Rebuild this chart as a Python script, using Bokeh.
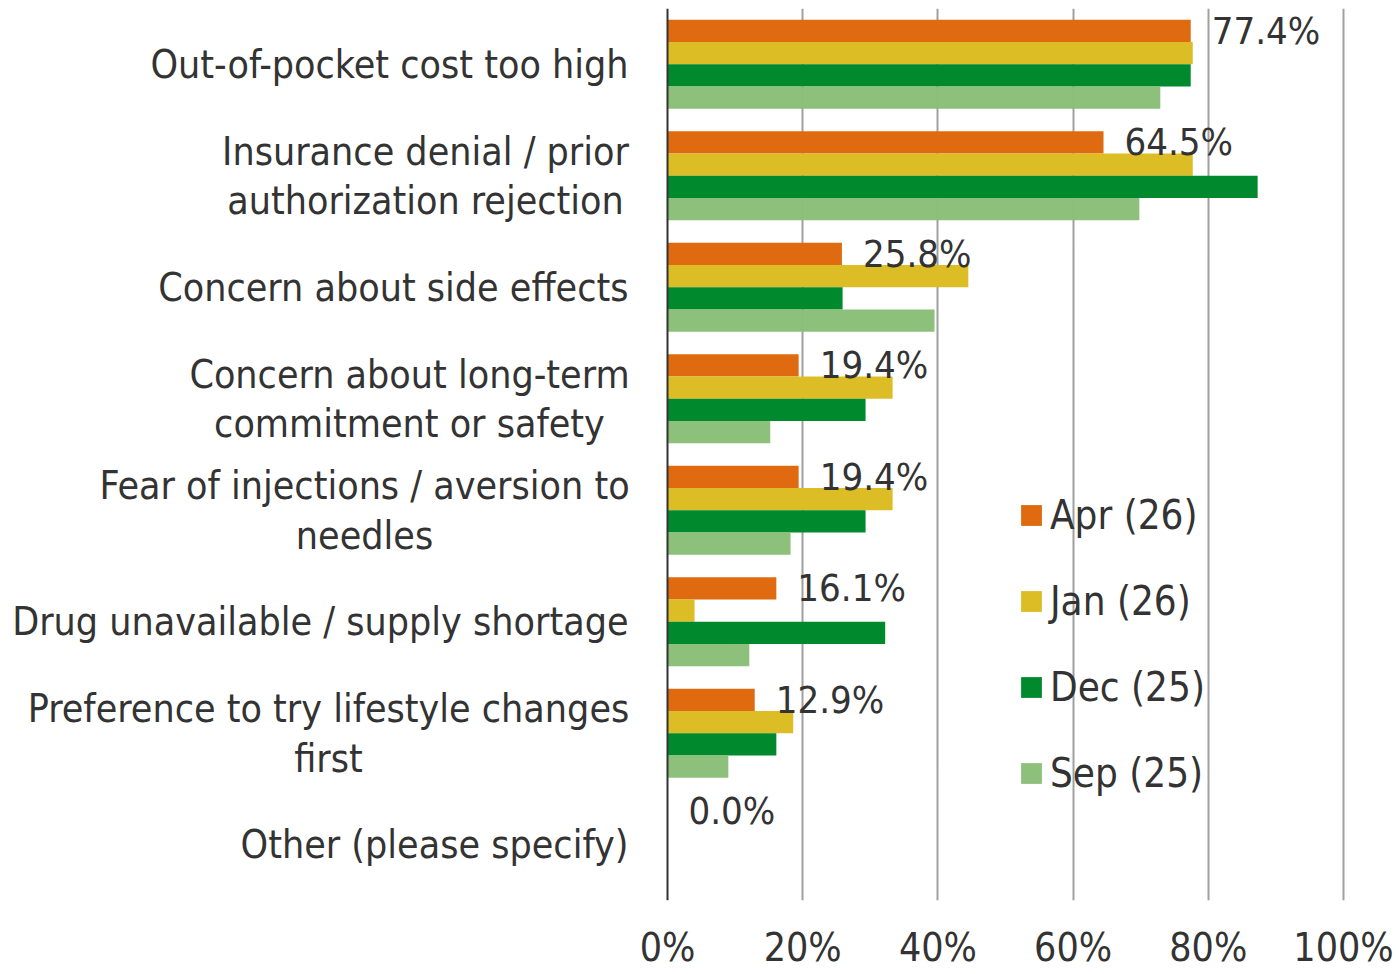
from bokeh.plotting import figure
from bokeh.models import (ColumnDataSource, Range1d, FixedTicker, NumeralTickFormatter,
                          Legend, LegendItem, Span)
from bokeh.transform import dodge
from bokeh.core.properties import value
from bokeh.embed import file_html
from bokeh.resources import INLINE

categories = [
    "Out-of-pocket cost too high",
    "Insurance denial / prior\nauthorization rejection",
    "Concern about side effects",
    "Concern about long-term\ncommitment or safety",
    "Fear of injections / aversion to\nneedles",
    "Drug unavailable / supply shortage",
    "Preference to try lifestyle changes\nfirst",
    "Other (please specify)",
]
series_names = ["Apr (26)", "Jan (26)", "Dec (25)", "Sep (25)"]
apr = [0.774, 0.645, 0.258, 0.194, 0.194, 0.161, 0.129, 0.0]
jan = [0.777, 0.777, 0.445, 0.333, 0.333, 0.040, 0.186, 0.0]
dec = [0.774, 0.873, 0.259, 0.293, 0.293, 0.322, 0.161, 0.0]
sep = [0.729, 0.698, 0.395, 0.152, 0.182, 0.121, 0.090, 0.0]
x_ticks = [0, 0.2, 0.4, 0.6, 0.8, 1.0]

colors = ["#DF6A0F", "#DCBD25", "#018A2D", "#89BE76"]
FONT = "DejaVu Sans Condensed"
TXT = "#333333"
FS = "39px"

# layout (pixels): zero of the value axis sits 667px from the left edge, 100% spans 676px
PX = 676.0
LEFT = 667.0
n = len(categories)
y = [i + 0.5 for i in range(n)]
src = ColumnDataSource(dict(y=y, apr=apr, jan=jan, dec=dec, sep=sep,
                            lbl=[f"{v*100:.1f}%" for v in apr]))

p = figure(width=1399, height=974, output_backend="svg", toolbar_location=None,
           x_range=Range1d(-LEFT / PX, 710 / PX), y_range=Range1d(n, 0),
           min_border_left=0, min_border_right=22, min_border_top=8, min_border_bottom=74)
p.outline_line_color = None
p.background_fill_color = "white"

renderers = []
offsets = [-0.3, -0.1, 0.1, 0.3]
for key, off, c in zip(["apr", "jan", "dec", "sep"], offsets, colors):
    r = p.hbar(y=dodge("y", off), right=key, left=0, height=0.2, source=src,
               fill_color=c, line_color=None, fill_alpha=0.97 if key == "sep" else 1.0)
    renderers.append(r)

p.text(x="apr", y=dodge("y", -0.3), text="lbl", source=src, x_offset=21,
       text_baseline="middle", text_align="left", text_font_size="38px",
       text_color=TXT, text_font=value(FONT))

# category labels: single-line right-aligned, two-line centred under each other
single = [i for i, c in enumerate(categories) if "\n" not in c]
multi = [i for i, c in enumerate(categories) if "\n" in c]
multi_center_px = {1: -242, 3: -258, 4: -303, 6: -339}
src_single = ColumnDataSource(dict(x=[0] * len(single), y=[y[i] for i in single],
                                   t=[categories[i] for i in single]))
src_multi = ColumnDataSource(dict(x=[0] * len(multi), y=[y[i] for i in multi],
                                  t=[categories[i] for i in multi],
                                  dx=[multi_center_px[i] for i in multi]))
p.text(x="x", y="y", text="t", source=src_single, x_offset=-39, text_align="right",
       text_baseline="middle", text_font_size=FS, text_font=value(FONT), text_color=TXT)
p.text(x="x", y="y", text="t", source=src_multi, x_offset="dx", text_align="center",
       text_baseline="middle", text_font_size=FS, text_font=value(FONT), text_color=TXT,
       text_line_height=1.1)

# x axis
p.xaxis.ticker = FixedTicker(ticks=x_ticks)
p.xaxis.formatter = NumeralTickFormatter(format="0%")
p.xaxis.axis_line_color = None
p.xaxis.major_tick_line_color = None
p.xaxis.minor_tick_line_color = None
p.xaxis.major_tick_out = 0
p.xaxis.major_tick_in = 0
p.xaxis.major_label_standoff = 24
p.xaxis.major_label_text_font_size = FS
p.xaxis.major_label_text_font = FONT
p.xaxis.major_label_text_color = TXT

p.yaxis.visible = False
p.ygrid.grid_line_color = None
p.xgrid.ticker = FixedTicker(ticks=x_ticks[1:])
p.xgrid.grid_line_color = "#A0A0A0"
p.xgrid.grid_line_width = 2

p.add_layout(Span(location=0, dimension="height", line_color="#333333", line_width=2))

legend = Legend(items=[LegendItem(label=nm, renderers=[r]) for nm, r in zip(series_names, renderers)],
                location=(351 + LEFT, 84), orientation="vertical",
                glyph_width=26, glyph_height=26, label_height=86, label_standoff=6,
                spacing=0, padding=0, margin=0,
                label_text_font_size="40px", label_text_font=FONT, label_text_color=TXT,
                border_line_color=None, background_fill_alpha=0)
p.add_layout(legend, "center")

open("out.html", "w").write(file_html(p, INLINE))
